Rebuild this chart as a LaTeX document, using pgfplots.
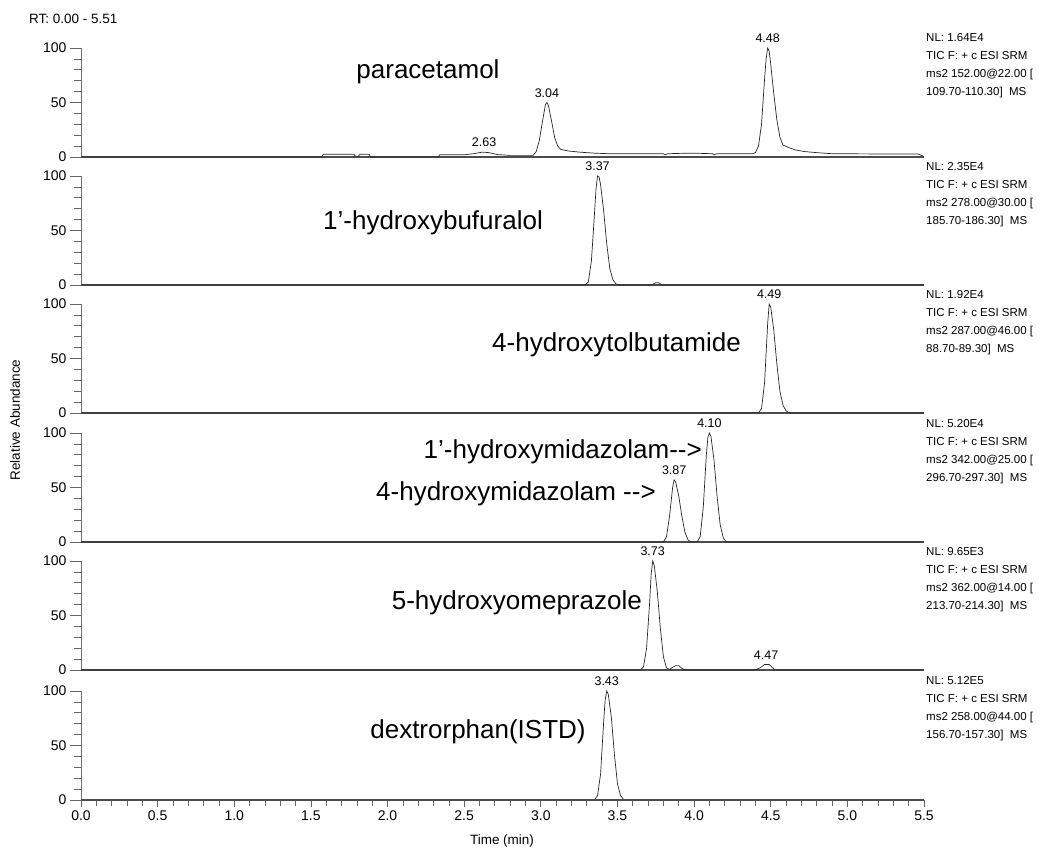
\documentclass[border=0pt]{standalone}
\usepackage{pgfplots}
\pgfplotsset{compat=1.18}
\usepackage{fontspec}
\setmainfont{Liberation Sans}

\pgfplotsset{
 panel/.style={
   scale only axis, width=843pt, height=109pt, anchor=south west,
   xmin=0,xmax=5.5,ymin=0,ymax=100,
   axis x line=bottom, axis y line=left, axis line style={-},
   x axis line style={black!70,line width=1.4pt},
   y axis line style={black!55,line width=0.7pt},
   xtick=\empty,
   ytick={0,50,100}, minor ytick={10,20,30,40,60,70,80,90},
   tick align=outside, major tick length=11pt, minor tick length=7pt,
   tick style={black!60,line width=0.7pt},
   yticklabel style={font=\fontsize{14}{16}\selectfont, text=black},
   /pgf/number format/assume math mode=true,
   clip=false,
 },
 trace/.style={black!85,line width=0.7pt, no markers},
}
\tikzset{pk/.style={font=\fontsize{12.5}{14}\selectfont, anchor=south, inner sep=0pt, yshift=5pt}}
\newcommand{\ann}[6]{%
  \node[anchor=base west,inner sep=0pt,font=\fontsize{11.5}{13}\selectfont] at (#1pt,#2pt) {#3};
  \node[anchor=base west,inner sep=0pt,font=\fontsize{11.5}{13}\selectfont] at (#1pt,#2pt-18pt) {#4};
  \node[anchor=base west,inner sep=0pt,font=\fontsize{11.5}{13}\selectfont] at (#1pt,#2pt-36pt) {#5};
  \node[anchor=base west,inner sep=0pt,font=\fontsize{11.5}{13}\selectfont] at (#1pt,#2pt-54pt) {#6};
}
\newcommand{\bigfont}{\fontsize{26}{30}\selectfont}

\begin{document}
\begin{tikzpicture}
\useasboundingbox (0,0) rectangle (1041pt,847pt);

% Panel 1: paracetamol
\begin{axis}[panel, at={(81pt,690pt)}]
\addplot[trace] coordinates {
(0.00,0) (1.57,0) (1.58,2.5) (1.78,2.5) (1.79,0.8) (1.81,0.8) (1.82,2.5) (1.88,2.5)
(1.89,0) (2.33,0) (2.34,2) (2.50,2) (2.56,3) (2.62,4.5) (2.66,4) (2.72,2.2) (2.80,1.5)
(2.95,1.5) (2.97,5) (2.99,15) (3.01,32) (3.03,48) (3.04,50) (3.05,47) (3.07,33) (3.09,18)
(3.11,10) (3.13,7) (3.18,5.5) (3.25,4.5) (3.35,3.5) (3.45,3) (3.55,3) (3.70,3) (3.80,3)
(3.81,2) (3.83,3) (3.95,3.5) (4.00,3.5) (4.12,3) (4.13,2) (4.15,3) (4.38,3) (4.40,4)
(4.42,10) (4.44,30) (4.46,72) (4.47,90) (4.48,100) (4.49,97) (4.50,85) (4.52,58) (4.54,34)
(4.56,18) (4.58,11) (4.62,8.5) (4.66,6.5) (4.72,5) (4.80,4) (4.90,3) (5.20,2.8) (5.46,2.8) (5.50,0.5)
};
\node[pk] at (axis cs:2.63,4.5) {2.63};
\node[pk] at (axis cs:3.04,50) {3.04};
\node[pk] at (axis cs:4.48,100) {4.48};
\end{axis}

% Panel 2
\begin{axis}[panel, at={(81pt,562pt)}]
\addplot[trace] coordinates {
(0,0) (3.29,0) (3.31,3) (3.33,22) (3.35,65) (3.36,88) (3.37,100) (3.38,99) (3.39,92)
(3.41,68) (3.43,38) (3.45,15) (3.47,5) (3.49,1) (3.51,0) (3.72,0) (3.75,2) (3.77,2) (3.79,0) (5.5,0)
};
\node[pk] at (axis cs:3.37,100) {3.37};
\end{axis}

% Panel 3
\begin{axis}[panel, at={(81pt,434pt)}]
\addplot[trace] coordinates {
(0,0) (4.42,0) (4.44,4) (4.46,28) (4.48,82) (4.49,100) (4.50,97) (4.52,76) (4.54,45)
(4.56,20) (4.58,7) (4.60,2) (4.62,0) (5.5,0)
};
\node[pk] at (axis cs:4.49,100) {4.49};
\end{axis}

% Panel 4
\begin{axis}[panel, at={(81pt,305pt)}]
\addplot[trace] coordinates {
(0,0) (3.80,0) (3.82,5) (3.84,24) (3.86,50) (3.87,57) (3.88,55) (3.90,42) (3.92,24)
(3.94,9) (3.96,2) (3.98,0) (4.02,0) (4.04,5) (4.06,32) (4.08,80) (4.09,96) (4.10,100)
(4.11,97) (4.13,75) (4.15,42) (4.17,16) (4.19,4) (4.21,0) (5.5,0)
};
\node[pk] at (axis cs:3.87,57) {3.87};
\node[pk] at (axis cs:4.10,100) {4.10};
\end{axis}

% Panel 5
\begin{axis}[panel, at={(81pt,177pt)}]
\addplot[trace] coordinates {
(0,0) (3.65,0) (3.67,3) (3.69,20) (3.71,62) (3.72,88) (3.73,100) (3.74,96) (3.76,72)
(3.78,38) (3.80,12) (3.82,2) (3.84,0.5) (3.86,2.5) (3.88,4) (3.90,4) (3.92,1.5) (3.94,0)
(4.40,0) (4.43,2) (4.46,5) (4.49,5) (4.51,2.5) (4.53,0) (5.5,0)
};
\node[pk] at (axis cs:3.73,100) {3.73};
\node[pk] at (axis cs:4.47,5) {4.47};
\end{axis}

% Panel 6
\begin{axis}[panel, at={(81pt,47pt)}]
\addplot[trace] coordinates {
(0,0) (3.35,0) (3.37,4) (3.39,24) (3.41,72) (3.42,92) (3.43,100) (3.44,97) (3.46,76)
(3.48,42) (3.50,15) (3.52,4) (3.54,0.5) (3.56,0) (5.5,0)
};
\node[pk] at (axis cs:3.43,100) {3.43};
\end{axis}

% bottom time axis
\begin{axis}[scale only axis, width=843pt, height=109pt, anchor=south west, at={(81pt,47pt)},
  xmin=0,xmax=5.5,ymin=0,ymax=100,
  axis y line=none, axis x line=bottom, axis line style={-},
  x axis line style={black!70,line width=1.4pt},
  xtick={0,0.5,1,1.5,2,2.5,3,3.5,4,4.5,5,5.5},
  xticklabels={0.0,0.5,1.0,1.5,2.0,2.5,3.0,3.5,4.0,4.5,5.0,5.5},
  minor x tick num=4,
  tick align=outside, major tick length=7pt, minor tick length=6pt,
  tick style={black!60,line width=0.7pt},
  xticklabel style={font=\fontsize{14}{16}\selectfont, text=black},
  /pgf/number format/assume math mode=true]
\addplot[draw=none] coordinates {(0,0)};
\end{axis}

% texts
\node[anchor=west,inner sep=0pt,font=\fontsize{13.5}{16}\selectfont] at (29pt,828pt) {RT: 0.00 - 5.51};
\node[rotate=90,inner sep=0pt,font=\fontsize{13.5}{16}\selectfont] at (15pt,427pt) {Relative Abundance};
\node[inner sep=0pt,font=\fontsize{13.5}{16}\selectfont] at (502pt,6pt) {Time (min)};

\node[inner sep=0pt,font=\bigfont] at (428pt,775pt) {paracetamol};
\node[inner sep=0pt,font=\bigfont] at (433pt,624pt) {1’-hydroxybufuralol};
\node[anchor=east,inner sep=0pt,font=\bigfont] at (741pt,502pt) {4-hydroxytolbutamide};
\node[anchor=east,inner sep=0pt,font=\bigfont] at (702pt,395pt) {1’-hydroxymidazolam{-}{-}>};
\node[anchor=east,inner sep=0pt,font=\bigfont] at (656pt,353pt) {4-hydroxymidazolam {-}{-}>};
\node[anchor=east,inner sep=0pt,font=\bigfont] at (642pt,244pt) {5-hydroxyomeprazole};
\node[inner sep=0pt,font=\bigfont] at (478pt,115pt) {dextrorphan(ISTD)};

\ann{926}{805.5}{NL: 1.64E4}{TIC F: + c ESI SRM}{ms2 152.00@22.00 [}{109.70-110.30]\ \ MS}
\ann{926}{676.5}{NL: 2.35E4}{TIC F: + c ESI SRM}{ms2 278.00@30.00 [}{185.70-186.30]\ \ MS}
\ann{926}{548.5}{NL: 1.92E4}{TIC F: + c ESI SRM}{ms2 287.00@46.00 [}{88.70-89.30]\ \ MS}
\ann{926}{419.5}{NL: 5.20E4}{TIC F: + c ESI SRM}{ms2 342.00@25.00 [}{296.70-297.30]\ \ MS}
\ann{926}{291.5}{NL: 9.65E3}{TIC F: + c ESI SRM}{ms2 362.00@14.00 [}{213.70-214.30]\ \ MS}
\ann{926}{162.5}{NL: 5.12E5}{TIC F: + c ESI SRM}{ms2 258.00@44.00 [}{156.70-157.30]\ \ MS}
\end{tikzpicture}
\end{document}
